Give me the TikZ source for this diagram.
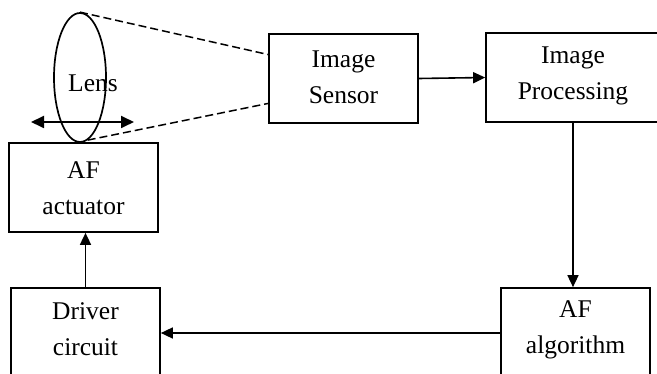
\documentclass[tikz,border=0pt]{standalone}
\usepackage{fontspec}
\setmainfont{Liberation Serif}
\usetikzlibrary{shapes.geometric,arrows.meta,calc}
\begin{document}
\begin{tikzpicture}[x=1pt,y=-1pt,
  blk/.style={draw=black,line width=1.7pt,rectangle,inner sep=0pt,minimum width=149pt,minimum height=89pt},
  txt/.style={align=center,inner sep=0pt,font=\fontsize{25.5}{36}\selectfont},
  arr/.style={line width=1.6pt,-{Triangle[length=12pt,width=11pt]}},
  dbl/.style={line width=1.8pt,{Triangle[length=13pt,width=12pt]}-{Triangle[length=13pt,width=12pt]}},
  dsh/.style={line width=1.5pt,dash pattern=on 8pt off 4pt}]
\useasboundingbox (0,0) rectangle (657,374);
\fill[white] (0,0) rectangle (657,374);
% boxes
\node[blk] (act) at (83.5,187.5) {};
\node[txt] (actt) at (83.5,188) {AF\\actuator};
\node[blk] (sens) at (343.5,78.5) {};
\node[txt] (senst) at (343.5,77) {Image\\Sensor};
\node[blk,minimum width=174pt] (proc) at (573,77.5) {};
\node[txt] (proct) at (573,76) {Image\\Processing};
\node[blk,minimum height=90pt] (drv) at (85.5,333) {};
\node[txt] (drvt) at (85.5,329) {Driver\\circuit};
\node[blk,minimum height=90pt] (alg) at (575.5,333) {};
\node[txt] (algt) at (575.5,330) {AF\\algorithm};
% lens
\node[draw=black,line width=1.7pt,ellipse,inner sep=0pt,minimum width=52pt,minimum height=129pt] (lens) at (80,77.5) {};
\node[txt] (lenst) at (93,83) {Lens};
\coordinate (al) at (31,122);
\coordinate (ar) at (134,122);
\draw[dbl] (al) -- (ar);
% dashed rays
\draw[dsh] (lens.north) -- ($(sens.north west)!0.236!(sens.south west)$);
\draw[dsh] (lens.-83) -- ($(sens.north west)!0.775!(sens.south west)$);
% connectors
\draw[arr] (sens.east) -- (proc.west);
\draw[arr] (proc.south) -- (proc.south |- alg.north);
\draw[arr] (alg.west) -- (drv.east);
\draw[arr] (drv.north) -- (drv.north |- act.south);
\end{tikzpicture}
\end{document}
